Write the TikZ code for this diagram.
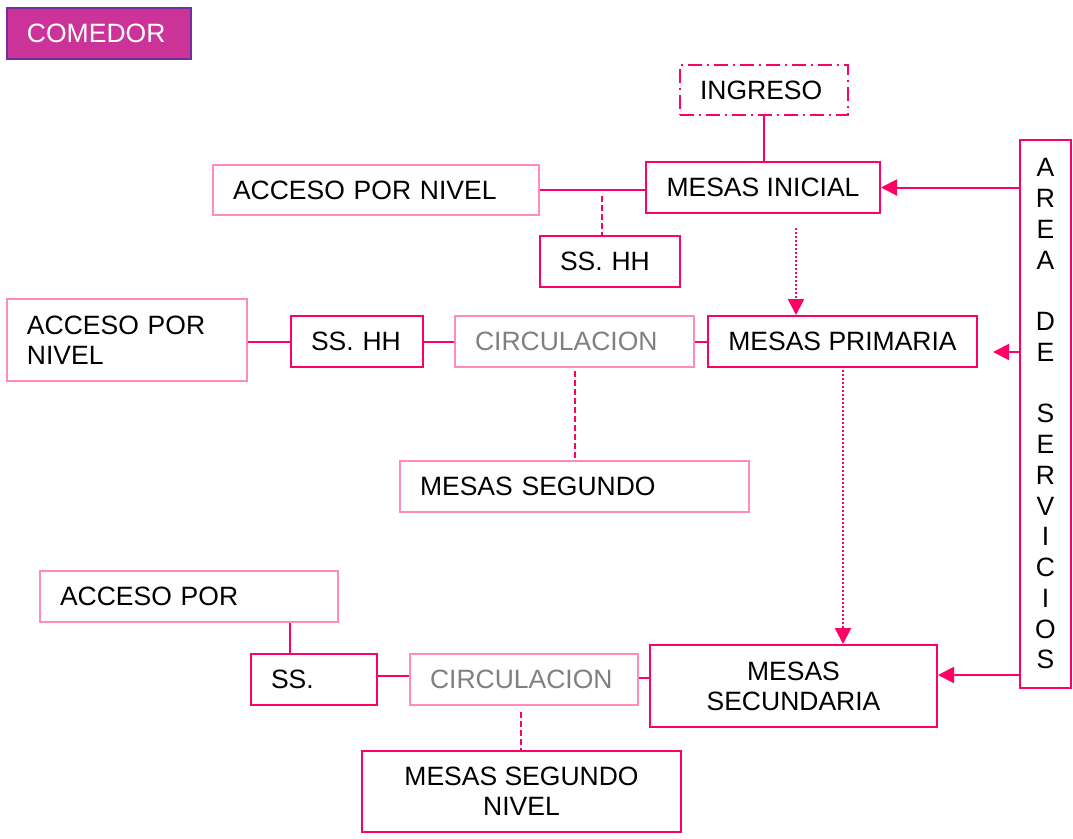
\documentclass[tikz,border=0pt]{standalone}
\usepackage{fontspec}
\setmainfont{Liberation Sans}
\usetikzlibrary{arrows.meta}
\definecolor{servpink}{HTML}{FF0066}
\definecolor{softpink}{HTML}{FF8CBC}
\definecolor{titlefill}{HTML}{CC3399}
\definecolor{titleedge}{HTML}{7030A0}
\definecolor{circgray}{HTML}{808080}

\begin{document}
\begin{tikzpicture}[
  x=1pt,
  y=-1pt,
  every node/.style={font=\fontsize{26.5}{30}\selectfont, inner sep=0pt},
  leftbox/.style={draw, line width=2pt, rectangle, align=left, inner xsep=20pt},
  midbox/.style={draw=servpink, line width=2pt, rectangle, align=center},
  link/.style={servpink, line width=1.5pt},
  dashlink/.style={servpink, line width=1.5pt, dash pattern=on 6pt off 3pt},
  droparrow/.style={servpink, line width=2.2pt, dash pattern=on 2pt off 2pt,
    -{Triangle[length=16pt,width=16pt]}},
  servarrow/.style={servpink, line width=2pt, -{Triangle[length=16pt,width=16pt]}}
]
  \useasboundingbox (0,0) rectangle (1073,838);

  % title
  \node[leftbox, draw=titleedge, fill=titlefill, text=white, text width=144pt,
    minimum height=51pt] (comedor) at (99,33.5) {COMEDOR};

  % top level
  \node[leftbox, draw=servpink, dash pattern=on 14pt off 5pt on 2pt off 5pt,
    text width=128pt, minimum height=50pt] (ingreso) at (764,90) {INGRESO};
  \node[midbox, minimum width=234pt, minimum height=51pt] (inicial) at (763,187.5) {MESAS INICIAL};
  \node[leftbox, draw=softpink, text width=286pt, minimum height=50pt] (accesoA) at (376,190) {ACCESO POR NIVEL};
  \node[leftbox, draw=servpink, text width=100pt, minimum height=51pt] (sshhA) at (610,261.5) {SS. HH};

  % services column
  \node[midbox, minimum width=51pt, minimum height=548pt,
    font=\fontsize{26.5}{30.75}\selectfont] (areaserv) at (1045.5,414)
    {A\\R\\E\\A\\~\\D\\E\\~\\S\\E\\R\\V\\I\\C\\I\\O\\S};

  % primary level
  \node[midbox, minimum width=269pt, minimum height=51pt] (primaria) at (842.5,341.5) {MESAS PRIMARIA};
  \node[leftbox, draw=softpink, text=circgray, text width=199pt, minimum height=51pt] (circA) at (574.5,341.5) {CIRCULACION};
  \node[leftbox, draw=servpink, text width=92pt, minimum height=51pt] (sshhB) at (357,341.5) {SS. HH};
  \node[leftbox, draw=softpink, text width=200pt, minimum height=82pt] (accesoB) at (127,340) {ACCESO POR\\NIVEL};
  \node[leftbox, draw=softpink, text width=309pt, minimum height=51pt] (segundo) at (574.5,486.5) {MESAS SEGUNDO};

  % secondary level
  \node[midbox, minimum width=287pt, minimum height=82pt] (secundaria) at (793.5,686) {MESAS\\SECUNDARIA};
  \node[leftbox, draw=softpink, text=circgray, text width=188pt, minimum height=51pt] (circB) at (524,679.5) {CIRCULACION};
  \node[leftbox, draw=servpink, text width=86pt, minimum height=51pt] (ssB) at (314,679.5) {SS.};
  \node[leftbox, draw=softpink, text width=258pt, minimum height=51pt] (accesoC) at (189,596.5) {ACCESO POR};
  \node[midbox, minimum width=319pt, minimum height=81pt] (segnivel) at (521.5,791.5) {MESAS SEGUNDO\\NIVEL};

  % free ends and row heights
  \coordinate (jA) at (602,196);
  \coordinate (dropA) at (796,228);
  \coordinate (stubB) at (993,352);
  \coordinate (rowB) at (0,342);
  \coordinate (jB) at (575,371);
  \coordinate (dropB) at (843,370);
  \coordinate (servC) at (1020,675);
  \coordinate (rowC) at (0,676);
  \coordinate (jC) at (290,640);
  \coordinate (jD) at (521,712);

  % connectors
  \draw[link] (ingreso.south) -- (ingreso.south |- inicial.north);
  \draw[link] (accesoA.east) -- (accesoA.east -| inicial.west);
  \draw[dashlink] (jA) -- (jA |- sshhA.north);
  \draw[droparrow] (dropA) -- (dropA |- primaria.north);

  \draw[servarrow] (areaserv.west |- inicial.east) -- (inicial.east);
  \draw[servarrow] (areaserv.west |- stubB) -- (stubB);
  \draw[servarrow] (servC) -- (servC -| secundaria.east);

  \draw[link] (circA.east |- rowB) -- (primaria.west |- rowB);
  \draw[link] (sshhB.east |- rowB) -- (circA.west |- rowB);
  \draw[link] (accesoB.east |- rowB) -- (sshhB.west |- rowB);
  \draw[dashlink] (jB) -- (jB |- segundo.north);
  \draw[droparrow] (dropB) -- (dropB |- secundaria.north);

  \draw[link] (circB.east |- 0,678) -- (secundaria.west |- 0,678);
  \draw[link] (ssB.east |- rowC) -- (circB.west |- rowC);
  \draw[link] (jC |- accesoC.south) -- (jC |- ssB.north);
  \draw[dashlink] (jD) -- (jD |- segnivel.north);
\end{tikzpicture}
\end{document}
